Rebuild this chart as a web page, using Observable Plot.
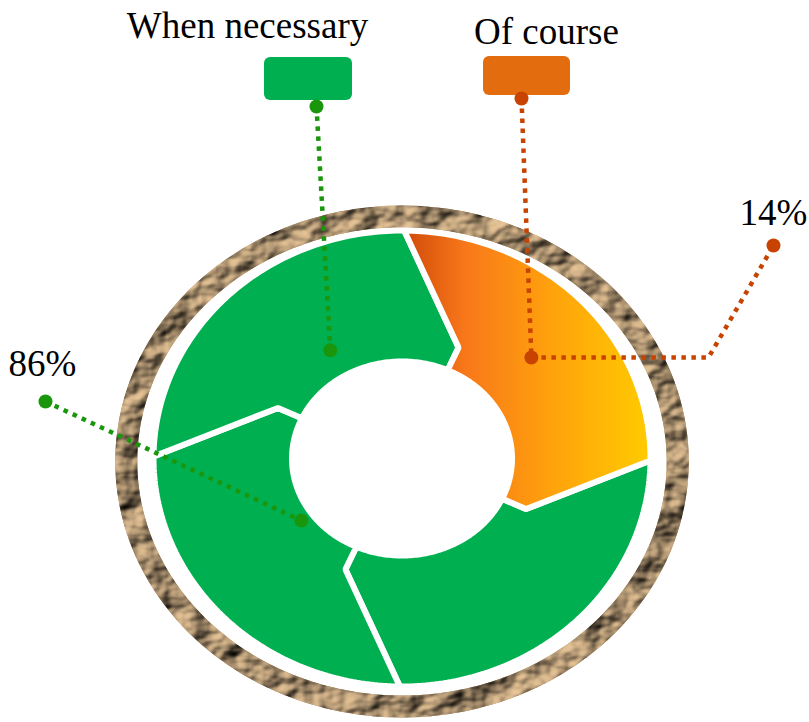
<!DOCTYPE html>
<html><head><meta charset="utf-8">
<script src="https://cdn.jsdelivr.net/npm/d3@7"></script>
<script src="https://cdn.jsdelivr.net/npm/@observablehq/plot@0.6"></script>
<style>html,body{margin:0;padding:0;background:#fff;overflow:hidden}</style>
</head><body><div id="chart"></div>
<script>
// ---- data ----
const categories = ["When necessary", "Of course"];
const values = [86, 14];
const valueLabels = ["86%", "14%"];
const seriesColors = ["#00b050", "#e36c0e"];
const leaderColors = ["#1a960c", "#c84300"];
// the ring is drawn as four arrow pieces; which series each piece belongs to (clockwise from 12 o'clock)
const segmentSeries = ["Of course", "When necessary", "When necessary", "When necessary"];
const gradientStops = [[0, "#d04a0a"], [0.25, "#f8781a"], [0.6, "#ffa20c"], [1, "#ffcb00"]];
const ringColors = ["#a88860", "#c9a97f"];

// ---- layout ----
const W = 809, H = 722;
const C = {cx: 401.5, cy: 458};
const SEG = {outerRx: 248.5, outerRy: 228, innerRx: 110, innerRy: 97, tipT: 0.19, twist: 24, start: 0.5, gap: 6};
const RING = {cx: 401.5, cy: 461, rx: 275.75, ry: 245, width: 22};
const anchorSpec = {
  "When necessary": {angle: 329.3, t: 0.22},
  "86%": {angle: 235.2, t: 0.09},
  "Of course": {angle: 49.2, t: 0.44}
};
const legendBox = {
  "When necessary": {x1: 264, x2: 352, y1: 57, y2: 100, dot: [316, 106], text: [247, 37]},
  "Of course": {x1: 483, x2: 570, y1: 56, y2: 95, dot: [521, 98], text: [546, 43]}
};
const labelPos = {"86%": {dot: [45, 401], text: [42, 375]}, "14%": {dot: [773, 245], text: [773, 224], elbowX: 708}};

function ep(cx, cy, rx, ry, deg) {
  const a = deg * Math.PI / 180;
  return [cx + rx * Math.sin(a), cy - ry * Math.cos(a)];
}
function segPt(deg, t) {
  return ep(C.cx, C.cy, SEG.innerRx + t * (SEG.outerRx - SEG.innerRx), SEG.innerRy + t * (SEG.outerRy - SEG.innerRy), deg);
}

// ring (textured band) as a thick stroked ellipse
const ringPts = [];
for (let a = 0; a < 360; a += 2) { const [x, y] = ep(RING.cx, RING.cy, RING.rx, RING.ry, a); ringPts.push({x, y}); }

// arrow segments
const step = 360 / segmentSeries.length;
const segPts = [];
segmentSeries.forEach((s, k) => {
  const a0 = SEG.start + k * step, a1 = a0 + step;
  const pts = [];
  for (let a = a0; a <= a1 + 1e-9; a += 1) pts.push(segPt(a, 1));
  pts.push(segPt(a1 + SEG.twist, SEG.tipT));
  for (let a = a1 + SEG.twist; a >= a0 + SEG.twist - 1e-9; a -= 1) pts.push(segPt(a, 0));
  pts.push(segPt(a0 + SEG.twist, SEG.tipT));
  pts.forEach(([x, y]) => segPts.push({seg: k, series: s, x, y}));
});
const ocPts = segPts.filter(d => d.series === categories[1]);
const gx0 = d3.min(ocPts, d => d.x), gx1 = d3.max(ocPts, d => d.x);

// annotations
const anc = {};
for (const k in anchorSpec) { const [x, y] = segPt(anchorSpec[k].angle, anchorSpec[k].t); anc[k] = {x, y}; }
const leaders = [];
const dots = [];
function addLeader(id, color, pts) {
  pts.forEach(([x, y]) => leaders.push({id, color, x, y}));
}
addLeader("wn", leaderColors[0], [legendBox[categories[0]].dot, [anc[categories[0]].x, anc[categories[0]].y]]);
addLeader("86", leaderColors[0], [labelPos[valueLabels[0]].dot, [anc["86%"].x, anc["86%"].y]]);
addLeader("oc", leaderColors[1], [legendBox[categories[1]].dot, [anc[categories[1]].x, anc[categories[1]].y]]);
addLeader("14", leaderColors[1], [[anc[categories[1]].x, anc[categories[1]].y], [labelPos[valueLabels[1]].elbowX, anc[categories[1]].y], labelPos[valueLabels[1]].dot]);
[[legendBox[categories[0]].dot, leaderColors[0]], [[anc[categories[0]].x, anc[categories[0]].y], leaderColors[0]],
 [labelPos[valueLabels[0]].dot, leaderColors[0]], [[anc["86%"].x, anc["86%"].y], leaderColors[0]],
 [legendBox[categories[1]].dot, leaderColors[1]], [[anc[categories[1]].x, anc[categories[1]].y], leaderColors[1]],
 [labelPos[valueLabels[1]].dot, leaderColors[1]]].forEach(([[x, y], color]) => dots.push({x, y, color}));

const rects = categories.map((c, i) => ({...legendBox[c], color: seriesColors[i]}));
const texts = [
  ...categories.map(c => ({text: c, x: legendBox[c].text[0], y: legendBox[c].text[1]})),
  ...valueLabels.map(v => ({text: v, x: labelPos[v].text[0], y: labelPos[v].text[1]}))
];

const plot = Plot.plot({
  width: W, height: H, margin: 0,
  x: {type: "linear", domain: [0, W], range: [0, W], axis: null},
  y: {type: "linear", domain: [0, H], range: [0, H], axis: null},
  color: {type: "identity"},
  marks: [
    Plot.line(ringPts, {x: "x", y: "y", stroke: ringColors[0], strokeWidth: RING.width, curve: "linear-closed"}),
    Plot.line(ringPts, {x: "x", y: "y", stroke: ringColors[1], strokeWidth: RING.width, curve: "linear-closed"}),
    Plot.line(segPts.filter(d => d.series === categories[0]), {x: "x", y: "y", z: "seg", fill: seriesColors[0], stroke: "white", strokeWidth: SEG.gap, strokeLinejoin: "miter", curve: "linear-closed"}),
    Plot.line(ocPts, {x: "x", y: "y", z: "seg", fill: "url(#ocGrad)", stroke: "white", strokeWidth: SEG.gap, strokeLinejoin: "miter", curve: "linear-closed"}),
    Plot.line(leaders, {x: "x", y: "y", z: "id", stroke: d => d.color, strokeWidth: 4.5, strokeDasharray: "4.5,5.5", strokeLinecap: "butt", strokeLinejoin: "miter"}),
    Plot.rect(rects, {x1: "x1", x2: "x2", y1: "y1", y2: "y2", fill: d => d.color, rx: 6}),
    Plot.dot(dots, {x: "x", y: "y", r: 7, fill: d => d.color, stroke: "none"}),
    Plot.text(texts, {x: "x", y: "y", text: "text", fontSize: 37, fontFamily: "Liberation Serif", fill: "black", textAnchor: "middle", lineAnchor: "bottom"})
  ]
});

// defs: gradient + crumpled paper texture
const NS = "http://www.w3.org/2000/svg";
function el(parent, name, attrs) {
  const e = document.createElementNS(NS, name);
  for (const k in attrs) e.setAttribute(k, attrs[k]);
  parent.appendChild(e);
  return e;
}
const defs = document.createElementNS(NS, "defs");
const grad = el(defs, "linearGradient", {id: "ocGrad", gradientUnits: "userSpaceOnUse", x1: gx0, x2: gx1, y1: 0, y2: 0});
gradientStops.forEach(([o, c]) => el(grad, "stop", {offset: o, "stop-color": c}));
const f = el(defs, "filter", {id: "tex", filterUnits: "userSpaceOnUse", x: 0, y: 0, width: W, height: H, "color-interpolation-filters": "sRGB"});
el(f, "feTurbulence", {type: "fractalNoise", baseFrequency: "0.03 0.04", numOctaves: 3, seed: 4, result: "noise"});
const light = el(f, "feDiffuseLighting", {in: "noise", "lighting-color": "#d4b48a", surfaceScale: 8, diffuseConstant: 1.1, result: "lit"});
el(light, "feDistantLight", {azimuth: 225, elevation: 45});
el(f, "feComposite", {in: "lit", in2: "SourceGraphic", operator: "in"});
plot.insertBefore(defs, plot.firstChild);
const ringG = Array.from(plot.querySelectorAll("g")).find(g => (g.getAttribute("stroke") || "").toLowerCase() === ringColors[1]);
if (ringG) ringG.setAttribute("filter", "url(#tex)");
document.getElementById("chart").appendChild(plot);
</script>
</body></html>
